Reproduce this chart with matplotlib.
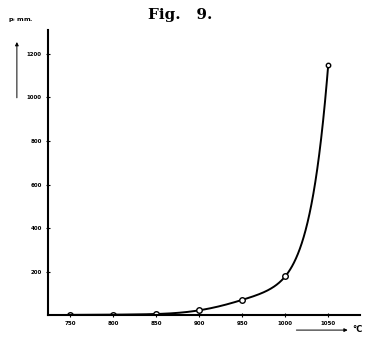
# vapour pressure vs temperature, old style figure
import numpy as np
import matplotlib.pyplot as plt
from matplotlib.patches import FancyArrowPatch

temps = [750, 800, 850, 900, 950, 1000, 1050]
pressure = [1, 2, 5, 22, 70, 178, 1150]   # mm
yticks = [200, 400, 600, 800, 1000, 1200]


def natural_spline(x, y, xs):
    # plain natural cubic spline, only used to draw a smooth line
    x = np.asarray(x, float)
    y = np.asarray(y, float)
    n = len(x)
    h = np.diff(x)
    A = np.zeros((n, n))
    b = np.zeros(n)
    A[0, 0] = A[-1, -1] = 1
    for i in range(1, n - 1):
        A[i, i - 1] = h[i - 1]
        A[i, i] = 2 * (h[i - 1] + h[i])
        A[i, i + 1] = h[i]
        b[i] = 6 * ((y[i + 1] - y[i]) / h[i] - (y[i] - y[i - 1]) / h[i - 1])
    m = np.linalg.solve(A, b)
    idx = np.clip(np.searchsorted(x, xs) - 1, 0, n - 2)
    t0 = xs - x[idx]
    t1 = x[idx + 1] - xs
    hh = h[idx]
    return (m[idx] * t1**3 / (6 * hh) + m[idx + 1] * t0**3 / (6 * hh)
            + (y[idx] / hh - m[idx] * hh / 6) * t1
            + (y[idx + 1] / hh - m[idx + 1] * hh / 6) * t0)


fig = plt.figure(figsize=(3.67, 3.41), dpi=100)
ax = fig.add_axes([0.131, 0.076, 0.85, 0.836])

xs = np.linspace(temps[0], temps[-1], 400)
ys = np.exp(natural_spline(temps, np.log(pressure), xs))
ax.plot(xs, ys, color="black", lw=1.4)
ax.plot(temps[:-1], pressure[:-1], "o", ms=4, mfc="white", mec="black", mew=1.0)
ax.plot(temps[-1:], pressure[-1:], "o", ms=3.2, mfc="white", mec="black", mew=1.0)

ax.set_xlim(724, 1087)
ax.set_ylim(0, 1310)
ax.set_xticks(temps)
ax.set_yticks(yticks)
ax.tick_params(labelsize=4, length=3, width=0.8, direction="inout", pad=3)
for lab in ax.get_xticklabels() + ax.get_yticklabels():
    lab.set_fontweight("bold")

for s in ["top", "right"]:
    ax.spines[s].set_visible(False)
ax.spines["left"].set_linewidth(1.5)
ax.spines["bottom"].set_linewidth(1.5)

fig.text(0.49, 0.955, "Fig.   9.", ha="center", va="center", fontsize=11,
         fontweight="bold", family="DejaVu Serif")
fig.text(0.055, 0.94, "p$_t$ mm.", ha="center", va="center", fontsize=4.5,
         fontweight="bold")
# axis arrows
fig.patches.append(FancyArrowPatch(
    (0.046, 0.705), (0.046, 0.885), transform=fig.transFigure,
    arrowstyle="-|>", mutation_scale=5, lw=0.7, color="black"))
fig.patches.append(FancyArrowPatch(
    (0.80, 0.032), (0.955, 0.032), transform=fig.transFigure,
    arrowstyle="-|>", mutation_scale=5, lw=0.7, color="black"))
fig.text(0.975, 0.035, "°C", ha="center", va="center", fontsize=6,
         fontweight="bold")

fig.savefig("out.png", dpi=100)
